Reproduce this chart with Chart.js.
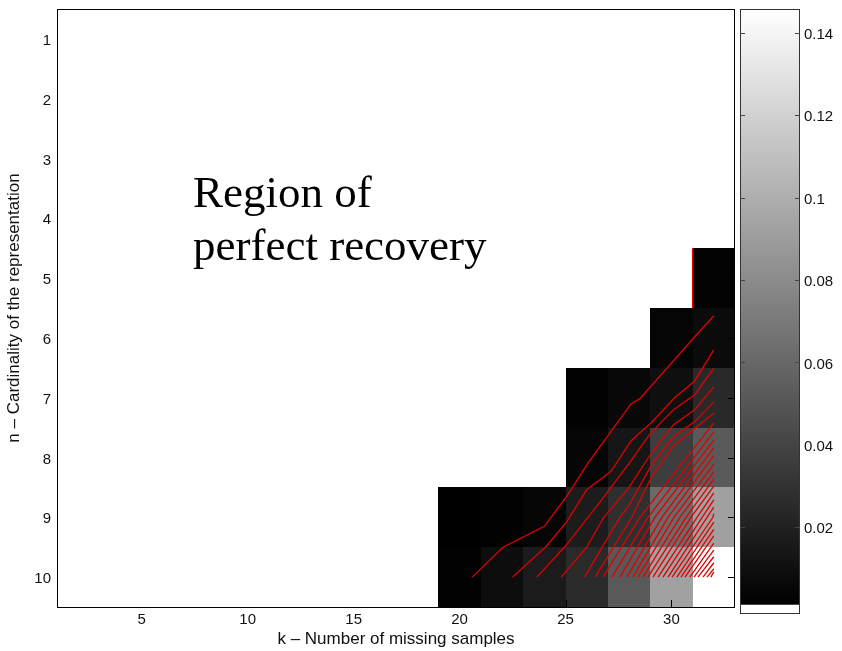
<!DOCTYPE html>
<html lang="en">
<head>
<meta charset="UTF-8">
<title>Region of perfect recovery</title>
<style>
  html, body { margin: 0; padding: 0; background: #fff; }
  #wrap { position: relative; width: 842px; height: 651px; }
  #mainBox { position: absolute; left: 0; top: 0; }
  #barBox { position: absolute; left: 740px; top: 0; }
</style>
</head>
<body>
<div id="wrap">
  <div id="mainBox"><canvas id="heatChart" width="740" height="651"></canvas></div>
  <div id="barBox"><canvas id="colorBar" width="102" height="651"></canvas></div>
</div>
<script src="https://cdn.jsdelivr.net/npm/chart.js"></script>
<script>
// grid: k = 2,4,...,32 (each cell 2 wide), n = 1..10
const kValues = [2, 4, 6, 8, 10, 12, 14, 16, 18, 20, 22, 24, 26, 28, 30, 32];
const nValues = [1, 2, 3, 4, 5, 6, 7, 8, 9, 10];
const kTicks = [5, 10, 15, 20, 25, 30];
const cbTicks = [0.02, 0.04, 0.06, 0.08, 0.1, 0.12, 0.14];

// error per cell, 0 = perfect recovery (white)
const errByRow = [
  [0, 0, 0, 0, 0, 0, 0, 0, 0, 0, 0, 0, 0, 0, 0, 0],
  [0, 0, 0, 0, 0, 0, 0, 0, 0, 0, 0, 0, 0, 0, 0, 0],
  [0, 0, 0, 0, 0, 0, 0, 0, 0, 0, 0, 0, 0, 0, 0, 0],
  [0, 0, 0, 0, 0, 0, 0, 0, 0, 0, 0, 0, 0, 0, 0, 0],
  [0, 0, 0, 0, 0, 0, 0, 0, 0, 0, 0, 0, 0, 0, 0, 0.003],
  [0, 0, 0, 0, 0, 0, 0, 0, 0, 0, 0, 0, 0, 0, 0.0041, 0.0075],
  [0, 0, 0, 0, 0, 0, 0, 0, 0, 0, 0, 0, 0.0024, 0.0058, 0.0098, 0.0246],
  [0, 0, 0, 0, 0, 0, 0, 0, 0, 0, 0, 0, 0.0041, 0.0138, 0.0359, 0.0524],
  [0, 0, 0, 0, 0, 0, 0, 0, 0, 0.0015, 0.0019, 0.0041, 0.0172, 0.028, 0.0615, 0.0921],
  [0, 0, 0, 0, 0, 0, 0, 0, 0, 0.0024, 0.0087, 0.0166, 0.0251, 0.0518, 0.0927, 0.146]
];

// red contour lines, [k, n] vertices
const contourLines = [
  [[31, 4.5], [31, 5.5]],
  [[20.6, 10], [22.05, 9.5], [24.0, 9.15], [25.1, 8.63], [26.05, 8.1], [28.1, 7.1], [28.5, 7.02], [31.1, 5.98], [32, 5.63]],
  [[22.5, 10], [24.05, 9.5], [25.05, 9.08], [26.0, 8.54], [27.15, 8.23], [28.1, 7.72], [28.5, 7.59], [29.05, 7.42], [30.15, 7.0], [31.1, 6.72], [32, 6.2]],
  [[23.65, 10], [25.05, 9.46], [26.06, 9.0], [26.6, 8.76], [28.0, 8.1], [29.0, 7.6], [30.1, 7.2], [31.1, 6.95], [32, 6.51]],
  [[24.8, 10], [26.0, 9.5], [26.81, 9.0], [28.0, 8.5], [29.1, 7.9], [30.1, 7.45], [31.1, 7.2], [32, 6.82]],
  [[25.9, 10], [26.65, 9.55], [27.57, 9.0], [28.0, 8.8], [29.1, 8.1], [30.1, 7.65], [31.1, 7.4], [32, 7.07]],
  [[26.4, 10], [27.1, 9.6], [28.13, 9.0], [29.1, 8.3], [30.1, 7.8], [32, 7.26]],
  [[26.77, 10], [28.51, 9], [32, 7.42]],
  [[27.19, 10], [28.89, 9], [32, 7.57]],
  [[27.57, 10], [29.22, 9], [32, 7.71]],
  [[27.90, 10], [29.55, 9], [32, 7.84]],
  [[28.18, 10], [29.84, 9], [32, 7.97]],
  [[28.42, 10], [30.12, 9], [32, 8.11]],
  [[28.66, 10], [30.40, 9], [32, 8.24]],
  [[28.89, 10], [30.69, 9], [32, 8.36]],
  [[29.13, 10], [30.92, 9], [32, 8.48]],
  [[29.37, 10], [31.21, 9], [32, 8.59]],
  [[29.60, 10], [31.45, 9], [32, 8.71]],
  [[29.84, 10], [31.68, 9], [32, 8.83]],
  [[30.03, 10], [31.96, 9], [32, 8.94]],
  [[30.26, 10], [32, 9.08]],
  [[30.45, 10], [32, 9.20]],
  [[30.64, 10], [32, 9.31]],
  [[30.87, 10], [32, 9.43]],
  [[31.06, 10], [32, 9.55]],
  [[31.25, 10], [32, 9.66]],
  [[31.49, 10], [32, 9.76]],
  [[31.68, 10], [32, 9.86]],
  [[31.86, 10], [32, 9.91]]
];

const cbMin = -0.0011, cbBlack = 0.0013, cbMax = 0.1458;

function grayFor(v) {
  if (v <= 0) return '#ffffff';
  let g = Math.round(255 * (v - cbBlack) / (cbMax - cbBlack));
  g = Math.max(0, Math.min(255, g));
  return 'rgb(' + g + ',' + g + ',' + g + ')';
}

function noEdgePadding(s) {
  s.paddingTop = 0;
  s.paddingBottom = 0;
  s.paddingLeft = 0;
  s.paddingRight = 0;
}

const heatPlugin = {
  id: 'heat',
  beforeDatasetsDraw(chart) {
    const {ctx, scales: {x, y}} = chart;
    ctx.save();
    errByRow.forEach((row, r) => {
      const n = nValues[r];
      row.forEach((v, c) => {
        const k = kValues[c];
        const x0 = Math.round(x.getPixelForValue(k - 1));
        const x1 = Math.round(x.getPixelForValue(k + 1));
        const y0 = Math.round(y.getPixelForValue(n - 0.5));
        const y1 = Math.round(y.getPixelForValue(n + 0.5));
        ctx.fillStyle = grayFor(v);
        ctx.fillRect(x0, y0, x1 - x0, y1 - y0);
      });
    });
    // inner tick marks, only where the image is not painted white
    const area = chart.chartArea;
    ctx.strokeStyle = '#000';
    ctx.lineWidth = 1;
    ctx.beginPath();
    nValues.forEach((n, r) => {
      if (errByRow[r][kValues.length - 1] > 0) {
        const py = Math.round(y.getPixelForValue(n)) + 0.5;
        ctx.moveTo(area.right - 7, py);
        ctx.lineTo(area.right, py);
      }
    });
    kTicks.forEach(k => {
      const c = Math.min(kValues.length - 1, Math.floor((k - 1) / 2));
      if (errByRow[nValues.length - 1][c] > 0) {
        const px = Math.round(x.getPixelForValue(k)) + 0.5;
        ctx.moveTo(px, area.bottom - 7);
        ctx.lineTo(px, area.bottom);
      }
    });
    ctx.stroke();
    ctx.restore();
  },
  afterDatasetsDraw(chart) {
    const {ctx, chartArea: a} = chart;
    ctx.save();
    ctx.fillStyle = '#000';
    ctx.font = '45px "Liberation Serif", "Times New Roman", serif';
    ctx.textBaseline = 'alphabetic';
    ctx.fillText('Region of', 193, 207);
    ctx.fillText('perfect recovery', 193, 260);
    ctx.strokeStyle = '#000';
    ctx.lineWidth = 1;
    ctx.strokeRect(a.left + 0.5, a.top + 0.5, a.right - a.left - 1, a.bottom - a.top);
    ctx.restore();
  }
};

const lineSets = contourLines.map(pts => ({
  data: pts.map(p => ({x: p[0], y: p[1]})),
  showLine: true,
  borderColor: 'rgb(225,0,0)',
  borderWidth: 1.3,
  pointRadius: 0,
  fill: false
}));

const tickFont = {family: '"Liberation Sans", Arial, sans-serif', size: 15};
const titleFont = {family: '"Liberation Sans", Arial, sans-serif', size: 17};

new Chart(document.getElementById('heatChart'), {
  type: 'scatter',
  data: {datasets: lineSets},
  options: {
    responsive: false,
    animation: false,
    layout: {padding: {top: 9, left: 0, right: 5, bottom: 0}},
    plugins: {legend: {display: false}, tooltip: {enabled: false}},
    scales: {
      x: {
        type: 'linear', min: 1, max: 33,
        afterBuildTicks: s => { s.ticks = kTicks.map(v => ({value: v})); },
        afterFit: s => { s.height = 44; noEdgePadding(s); },
        ticks: {font: tickFont, color: '#111', padding: 4, maxRotation: 0, autoSkip: false},
        grid: {display: false, drawTicks: false},
        border: {display: false},
        title: {display: true, text: 'k – Number of missing samples', font: titleFont, color: '#111', padding: {top: 0, bottom: 1}}
      },
      y: {
        type: 'linear', min: 0.5, max: 10.5, reverse: true,
        afterBuildTicks: s => { s.ticks = nValues.map(v => ({value: v})); },
        afterFit: s => { s.width = 57; noEdgePadding(s); },
        ticks: {font: tickFont, color: '#111', padding: 6, autoSkip: false, labelOffset: 2},
        grid: {display: false, drawTicks: false},
        border: {display: false},
        title: {display: true, text: 'n – Cardinality of the representation', font: titleFont, color: '#111', padding: {top: 4, bottom: 0}}
      }
    }
  },
  plugins: [heatPlugin]
});

const barPlugin = {
  id: 'bar',
  beforeDatasetsDraw(chart) {
    const {ctx, chartArea: a, scales: {y}} = chart;
    const yBlack = y.getPixelForValue(cbBlack);
    const yTop = y.getPixelForValue(cbMax);
    ctx.save();
    const grad = ctx.createLinearGradient(0, yBlack, 0, yTop);
    grad.addColorStop(0, '#000');
    grad.addColorStop(1, '#fff');
    ctx.fillStyle = grad;
    ctx.fillRect(a.left, yTop, a.right - a.left, yBlack - yTop);
    ctx.fillStyle = '#fff';
    ctx.fillRect(a.left, yBlack, a.right - a.left, a.bottom - yBlack);
    ctx.strokeStyle = '#333';
    ctx.lineWidth = 1;
    ctx.strokeRect(a.left + 0.5, a.top + 0.5, a.right - a.left - 1, a.bottom - a.top - 1);
    ctx.beginPath();
    ctx.moveTo(a.left, Math.round(yBlack) + 0.5);
    ctx.lineTo(a.right, Math.round(yBlack) + 0.5);
    cbTicks.forEach(v => {
      const py = Math.round(y.getPixelForValue(v)) + 0.5;
      ctx.moveTo(a.left, py);
      ctx.lineTo(a.left + 5, py);
      ctx.moveTo(a.right - 5, py);
      ctx.lineTo(a.right, py);
    });
    ctx.strokeStyle = '#444';
    ctx.stroke();
    ctx.restore();
  }
};

new Chart(document.getElementById('colorBar'), {
  type: 'scatter',
  data: {datasets: []},
  options: {
    responsive: false,
    animation: false,
    layout: {padding: {top: 9, left: 0, right: 0, bottom: 37}},
    plugins: {legend: {display: false}, tooltip: {enabled: false}},
    scales: {
      x: {type: 'linear', display: false, min: 0, max: 1},
      y: {
        type: 'linear', position: 'right', min: cbMin, max: cbMax,
        afterBuildTicks: s => { s.ticks = cbTicks.map(v => ({value: v})); },
        afterFit: s => { s.width = 42; noEdgePadding(s); },
        ticks: {font: tickFont, color: '#111', padding: 4, labelOffset: 2, callback: v => String(v)},
        grid: {display: false, drawTicks: false},
        border: {display: false}
      }
    }
  },
  plugins: [barPlugin]
});
</script>
</body>
</html>
